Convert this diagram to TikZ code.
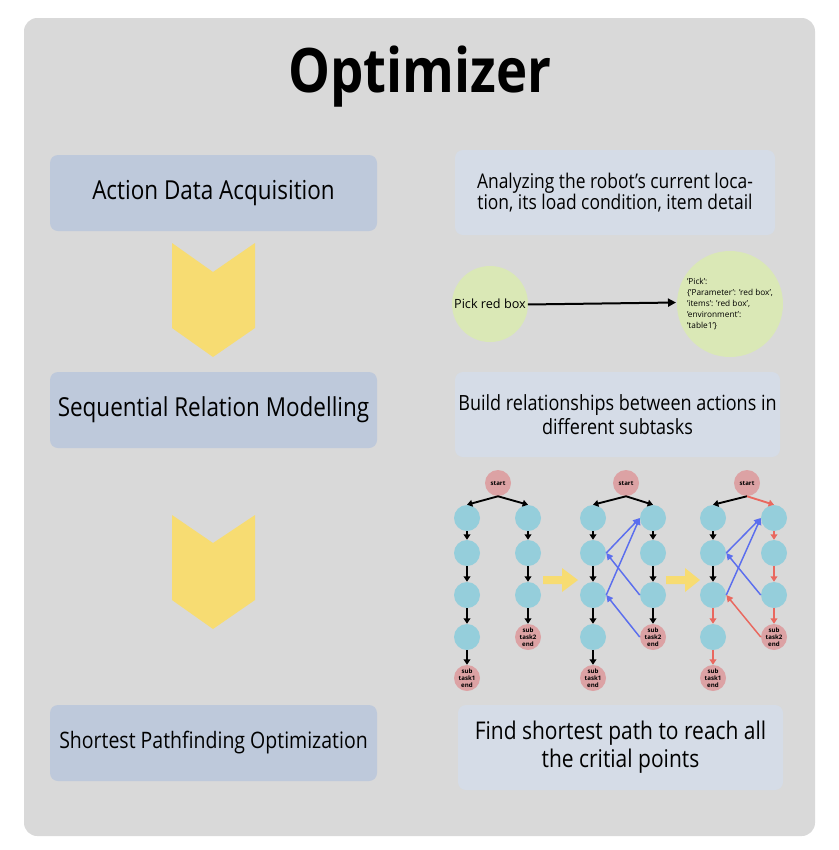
\documentclass[tikz,border=0pt]{standalone}
\usepackage{fontspec}
\setmainfont{Open Sans}
\newfontfamily\condfont[FakeStretch=0.86]{Open Sans}
\usetikzlibrary{arrows.meta}
\definecolor{bggray}{HTML}{D9D9D9}
\definecolor{lboxc}{HTML}{BEC9DB}
\definecolor{rboxc}{HTML}{D5DCE7}
\definecolor{yell}{HTML}{F7DC72}
\definecolor{greenc}{HTML}{DAE8B6}
\definecolor{pinkc}{HTML}{DCA2A4}
\definecolor{cyanc}{HTML}{95CEDB}
\definecolor{bluec}{HTML}{5B6EEE}
\definecolor{redc}{HTML}{E9685F}
\tikzset{
  lbox/.style={fill=lboxc, rounded corners=6pt, minimum width=245.25pt, minimum height=57pt, inner sep=0pt, align=center, font=\condfont\fontsize{19.6}{23}\selectfont},
  rbox/.style={fill=rboxc, rounded corners=6pt, minimum height=63.75pt, inner sep=0pt, align=center},
  gcirc/.style={circle, fill=greenc, inner sep=0pt, align=left},
  cy/.style={circle, fill=cyanc, minimum size=19.5pt, inner sep=0pt},
  pk/.style={circle, fill=pinkc, minimum size=19.5pt, inner sep=0pt, align=center, font=\bfseries\fontsize{4.6}{5.2}\selectfont},
  blk/.style={-{Triangle[length=4pt,width=5pt]}, line width=1.4pt, black},
  bl/.style={-{Triangle[length=5pt,width=5pt]}, line width=1.1pt, bluec},
  rd/.style={-{Triangle[length=4pt,width=5pt]}, line width=1.4pt, redc},
  rdl/.style={-{Triangle[length=5pt,width=5pt]}, line width=1.1pt, redc},
  chev/.style={fill=yell},
}
\newcommand{\gnodes}[4]{%
  \node[pk] (#1s) at (#4,483) {start};
  \node[cy] (#1a1) at (#2,518) {};
  \node[cy] (#1a2) at (#2,553) {};
  \node[cy] (#1a3) at (#2,595) {};
  \node[cy] (#1a4) at (#2,637) {};
  \node[pk] (#1e1) at (#2,678) {sub\\task1\\end};
  \node[cy] (#1b1) at (#3,518) {};
  \node[cy] (#1b2) at (#3,553) {};
  \node[cy] (#1b3) at (#3,595) {};
  \node[pk] (#1e2) at (#3,637) {sub\\task2\\end};
}
\begin{document}
\begin{tikzpicture}[x=0.75pt,y=-0.75pt]
\useasboundingbox (0,0) rectangle (839,850);
\fill[white] (0,0) rectangle (839,850);
\fill[bggray, rounded corners=10pt] (24,18) rectangle (815,836);

\node[anchor=base, inner sep=0pt, font=\condfont\bfseries\fontsize{46}{50}\selectfont] (title) at (420,92) {Optimizer};

% left boxes
\node[lbox] (l1) at (213.5,193) {Action Data Acquisition};
\node[lbox] (l2) at (213.5,410) {Sequential Relation Modelling};
\node[lbox, font=\condfont\fontsize{17}{20}\selectfont] (l3) at (213.5,743) {Shortest Pathfinding Optimization};

% right boxes
\node[rbox, minimum width=240pt, font=\condfont\fontsize{15.2}{15.8}\selectfont] (r1) at (615,192.5) {Analyzing the robot’s current loca-\\tion, its load condition, item detail};
\node[rbox, minimum width=243.75pt, font=\condfont\fontsize{15.7}{18}\selectfont] (r2) at (617.5,414.5) {Build relationships between actions in\\different subtasks};
\node[rbox, minimum width=243.75pt, font=\condfont\fontsize{18.3}{21}\selectfont] (r3) at (620.5,747.5) {Find shortest path to reach all\\the critial points};

% chevrons
\fill[chev] (172,243) -- (213,272) -- (255,243) -- (255,328) -- (213,357) -- (172,328) -- cycle;
\fill[chev] (172,515) -- (213,543) -- (255,515) -- (255,600) -- (213,629) -- (172,600) -- cycle;

% green circles
\node[gcirc, minimum size=57pt, font=\fontsize{9.5}{11}\selectfont] (c1) at (490,304) {Pick red box};
\node[gcirc, minimum size=79.5pt, font=\fontsize{6.2}{8.2}\selectfont] (c2) at (730,304) {'Pick':\\\{'Parameter': 'red box',\\'items': 'red box',\\'environment':\\'table1'\}};
\node[inner sep=0pt] (pe) at (527,304.5) {};
\coordinate (pt) at (676,302.5);
\draw[-{Triangle[length=6pt,width=6pt]}, line width=1.5pt] (pe) -- (pt);

% graphs
\gnodes{g}{467}{528}{498}
\gnodes{h}{593}{653}{626}
\gnodes{k}{713}{774}{747}

% yellow arrows
\fill[yell] (543,576) -- (562,576) -- (562,568) -- (578,580) -- (562,592) -- (562,584) -- (543,584) -- cycle;
\fill[yell] (666,576) -- (685,576) -- (685,568) -- (700,580) -- (685,592) -- (685,584) -- (666,584) -- cycle;

% graph 1
\draw[blk] (gs.south) -- (ga1.north);
\draw[blk] (gs.south) -- (gb1.north);
\draw[blk] (ga1) -- (ga2);
\draw[blk] (ga2) -- (ga3);
\draw[blk] (ga3) -- (ga4);
\draw[blk] (ga4) -- (ge1);
\draw[blk] (gb1) -- (gb2);
\draw[blk] (gb2) -- (gb3);
\draw[blk] (gb3) -- (ge2);

% graph 2
\draw[blk] (hs.south) -- (ha1.north);
\draw[blk] (hs.south) -- (hb1.north);
\draw[blk] (ha1) -- (ha2);
\draw[blk] (ha2) -- (ha3);
\draw[blk] (ha3) -- (ha4);
\draw[blk] (ha4) -- (he1);
\draw[blk] (hb1) -- (hb2);
\draw[blk] (hb2) -- (hb3);
\draw[blk] (hb3) -- (he2);
\draw[bl] (hb3.west) -- (ha2.east);
\draw[bl] (he2.west) -- (ha3.east);
\draw[bl] (ha2.east) -- (hb1.west);
\draw[bl] (ha3.east) -- (hb1.west);

% graph 3
\draw[blk] (ks.south) -- (ka1.north);
\draw[rd] (ks.south) -- (kb1.north);
\draw[blk] (ka1) -- (ka2);
\draw[blk] (ka2) -- (ka3);
\draw[rd] (ka3) -- (ka4);
\draw[rd] (ka4) -- (ke1);
\draw[rd] (kb1) -- (kb2);
\draw[rd] (kb2) -- (kb3);
\draw[rd] (kb3) -- (ke2);
\draw[bl] (kb3.west) -- (ka2.east);
\draw[bl] (ka2.east) -- (kb1.west);
\draw[bl] (ka3.east) -- (kb1.west);
\draw[rdl] (ke2.west) -- (ka3.east);
\end{tikzpicture}
\end{document}
